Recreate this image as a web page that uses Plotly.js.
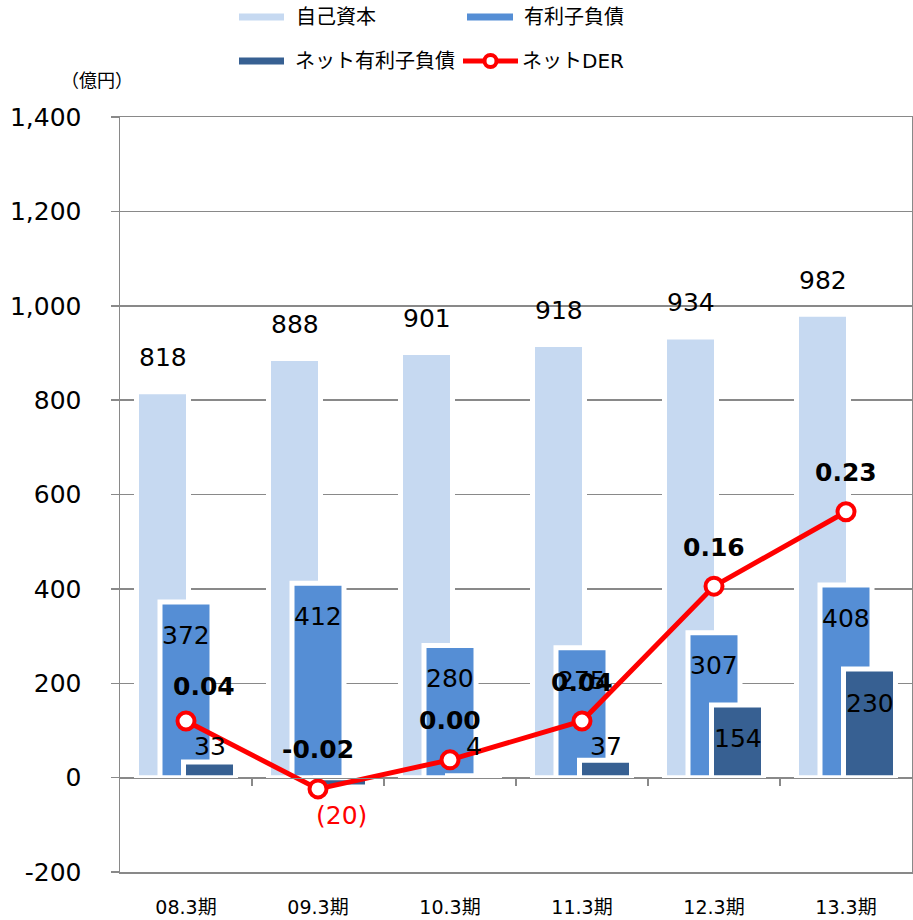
<!DOCTYPE html>
<html><head><meta charset="utf-8">
<script src="https://cdn.plot.ly/plotly-3.0.1.min.js"></script>
<style>html,body{margin:0;padding:0;background:#fff;}#chart{width:913px;height:920px;}</style>
</head><body><div id="chart"></div>
<script>
// ---- data ----
const categories = ['08.3期','09.3期','10.3期','11.3期','12.3期','13.3期'];
const equity = [818, 888, 901, 918, 934, 982];
const debt = [372, 412, 280, 275, 307, 408];
const netDebt = [33, -20, 4, 37, 154, 230];
const netDER = [0.040, -0.023, 0.004, 0.040, 0.165, 0.234];
const netDERLabels = ['0.04', '-0.02', '0.00', '0.04', '0.16', '0.23'];
const yTickVals = [-200, 0, 200, 400, 600, 800, 1000, 1200, 1400];
const yTickText = ['-200', '0', '200', '400', '600', '800', '1,000', '1,200', '1,400'];
const seriesNames = ['自己資本', '有利子負債', 'ネット有利子負債', 'ネットDER'];
const unitLabel = '（億円）';

// ---- style / geometry ----
const W = 913, H = 920, ML = 120, MR = 1, MT = 117, MB = 48;
const plotW = W - ML - MR, plotH = H - MT - MB;
const px2x = p => (p - ML) / plotW;
const px2y = p => (H - MB - p) / plotH;
const catPx = plotW / categories.length;
const FONT = 'DejaVu Sans, "Noto Sans CJK JP", sans-serif';
const cLight = '#C6D9F1', cMid = '#558ED5', cDark = '#376092', cRed = '#FF0000', cGrid = '#898989';
const bw = 52 / catPx;
const edge = 5;

const traces = [
  {type: 'bar', name: seriesNames[0], x: categories, y: equity, offset: -49.5 / catPx, width: bw,
   marker: {color: cLight, line: {color: '#ffffff', width: edge}}, showlegend: false, hoverinfo: 'y'},
  {type: 'bar', name: seriesNames[1], x: categories, y: debt, offset: -26 / catPx, width: bw,
   marker: {color: cMid, line: {color: '#ffffff', width: edge}}, showlegend: false, hoverinfo: 'y'},
  {type: 'bar', name: seriesNames[2], x: categories, y: netDebt, offset: -2.5 / catPx, width: bw,
   marker: {color: cDark, line: {color: '#ffffff', width: edge}}, showlegend: false, hoverinfo: 'y'},
  {type: 'scatter', name: seriesNames[3], x: categories, y: netDER, yaxis: 'y2', mode: 'lines+markers',
   line: {color: cRed, width: 5}, marker: {symbol: 'circle', size: 17, color: '#ffffff', line: {color: cRed, width: 4}},
   showlegend: false, hoverinfo: 'y'},
  {type: 'scatter', x: [], y: [], xaxis: 'x2', yaxis: 'y', showlegend: false, hoverinfo: 'skip'}
];

const annotations = [];
const lblFont = {family: FONT, size: 25, color: '#000000'};
categories.forEach((c, i) => {
  annotations.push({x: c, y: equity[i], xref: 'x', yref: 'y', text: String(equity[i]), showarrow: false,
    xshift: -23.5, yshift: 34, font: lblFont});
  annotations.push({x: c, y: debt[i], xref: 'x', yref: 'y', text: String(debt[i]), showarrow: false,
    xshift: 0, yshift: -33, font: lblFont});
  const v = netDebt[i];
  let a;
  if (v < 0) {
    a = {y: v, yshift: -28, text: '(' + (-v) + ')', font: {family: FONT, size: 25, color: cRed}};
  } else if (v >= 140) {
    a = {y: v, yshift: -34, text: String(v), font: lblFont};
  } else {
    a = {y: 0, yshift: 31, text: String(v), font: lblFont};
  }
  annotations.push(Object.assign({x: c, xref: 'x', yref: 'y', showarrow: false, xshift: 23.5}, a));
  annotations.push({x: c, y: netDER[i], xref: 'x', yref: 'y2', text: netDERLabels[i], showarrow: false,
    xshift: i === 0 ? 18 : 0, yshift: i === 0 ? 35 : 39,
    font: {family: FONT, size: 25, color: '#000000', weight: 'bold'}});
});

// unit label
annotations.push({xref: 'paper', yref: 'paper', x: px2x(97), y: px2y(81), text: unitLabel, showarrow: false,
  xanchor: 'center', yanchor: 'middle', font: {family: FONT, size: 18, color: '#000000'}});

// manual legend
const legendItems = [
  {name: seriesNames[0], color: cLight, x0: 239, x1: 284, y: 17, tx: 294, marker: false},
  {name: seriesNames[1], color: cMid, x0: 467, x1: 513, y: 17, tx: 522, marker: false},
  {name: seriesNames[2], color: cDark, x0: 239, x1: 284, y: 61, tx: 293, marker: false},
  {name: seriesNames[3], color: cRed, x0: 463, x1: 518, y: 61, tx: 520, marker: true}
];
const shapes = [];
legendItems.forEach(it => {
  shapes.push({type: 'line', xref: 'paper', yref: 'paper', x0: px2x(it.x0), x1: px2x(it.x1),
    y0: px2y(it.y), y1: px2y(it.y), line: {color: it.color, width: it.marker ? 5 : 7}});
  if (it.marker) {
    const cx = (it.x0 + it.x1) / 2, r = 6;
    shapes.push({type: 'circle', xref: 'paper', yref: 'paper', x0: px2x(cx - r), x1: px2x(cx + r),
      y0: px2y(it.y + r), y1: px2y(it.y - r), fillcolor: '#ffffff', line: {color: cRed, width: 4}});
  }
  annotations.push({xref: 'paper', yref: 'paper', x: px2x(it.tx), y: px2y(it.y), text: it.name,
    showarrow: false, xanchor: 'left', yanchor: 'middle', font: {family: FONT, size: 20, color: '#000000'}});
});

const layout = {
  width: W, height: H,
  margin: {l: ML, r: MR, t: MT, b: MB, pad: 0},
  paper_bgcolor: '#ffffff', plot_bgcolor: '#ffffff',
  barmode: 'overlay',
  showlegend: false,
  font: {family: FONT, color: '#000000'},
  xaxis: {type: 'category', range: [-0.5, 5.5], showline: true, linecolor: cGrid, linewidth: 1.5, mirror: true,
    ticks: '', showgrid: false, zeroline: false, tickfont: {family: FONT, size: 19, color: '#000000'},
    ticklabelstandoff: 18, fixedrange: true},
  xaxis2: {overlaying: 'x', anchor: 'free', position: 0.125, range: [-0.5, 5.5], type: 'linear',
    tickmode: 'array', tickvals: [0.5, 1.5, 2.5, 3.5, 4.5], ticks: 'outside', ticklen: 7, tickwidth: 1.5,
    tickcolor: cGrid, showticklabels: false, showgrid: false, zeroline: false,
    showline: true, linecolor: cGrid, linewidth: 1.5, layer: 'above traces'},
  yaxis: {range: [-200, 1400], tickmode: 'array', tickvals: yTickVals, ticktext: yTickText,
    showgrid: true, gridcolor: cGrid, gridwidth: 1.5, zeroline: false,
    showline: true, linecolor: cGrid, linewidth: 1.5, mirror: true, ticks: 'outside', ticklen: 8,
    tickwidth: 1.5, tickcolor: cGrid, tickfont: {family: FONT, size: 25, color: '#000000'},
    ticklabelstandoff: 24, fixedrange: true},
  yaxis2: {overlaying: 'y', range: [-0.1, 0.6], visible: false, fixedrange: true},
  annotations: annotations,
  shapes: shapes
};

Plotly.newPlot('chart', traces, layout, {displayModeBar: false, staticPlot: true});
</script>
</body></html>
